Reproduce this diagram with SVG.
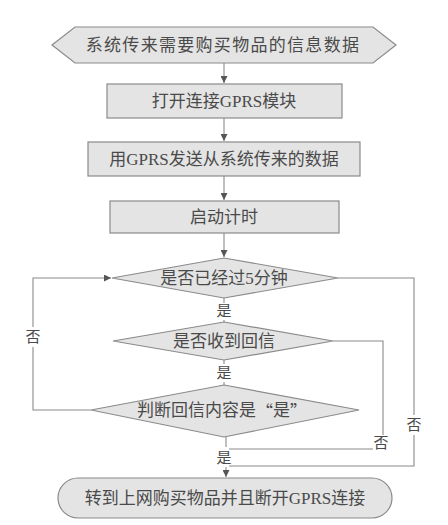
<svg xmlns="http://www.w3.org/2000/svg" width="448" height="525" viewBox="0 0 448 525">
<defs>
<marker id="ah" viewBox="0 0 10 10" refX="10" refY="5" markerWidth="7" markerHeight="7" markerUnits="userSpaceOnUse" orient="auto">
<path d="M0,0 L10,5 L0,10 z" fill="#555"/>
</marker>
<style>
.n{fill:#e4e4e4;stroke:#8a8a8a;stroke-width:1.2}
.t{font-family:"Liberation Serif","Noto Sans CJK SC",serif;font-size:17px;fill:#4a4a4a;text-anchor:middle;dominant-baseline:central}
.l{font-family:"Liberation Serif","Noto Sans CJK SC",serif;font-size:15px;fill:#4a4a4a;text-anchor:middle;dominant-baseline:central}
.q{font-family:"Noto Sans CJK SC",sans-serif}
.c{fill:none;stroke:#8a8a8a;stroke-width:1.1}
</style>
</defs>
<rect width="448" height="525" fill="#fff"/>
<g id="connectors">
<path class="c" d="M224,63 V83" marker-end="url(#ah)"/>
<path class="c" d="M224,118 V141" marker-end="url(#ah)"/>
<path class="c" d="M224,176 V200" marker-end="url(#ah)"/>
<path class="c" d="M224,233 V257" marker-end="url(#ah)"/>
<path class="c" d="M224,298 V303"/>
<path class="c" d="M224,320 V322"/>
<path class="c" d="M224,360 V364"/>
<path class="c" d="M224,382 V385"/>
<path class="c" d="M91,410 H33 V347"/>
<path class="c" d="M33,327 V278 H111" marker-end="url(#ah)"/>
<path class="c" d="M333,341 H383 V435"/>
<path class="c" d="M373,449 H229"/>
<path class="c" d="M338,278 H414 V415"/>
<path class="c" d="M414,435 V466 H229"/>
<path class="c" d="M226,437 V447"/>
<path class="c" d="M226,467 V477" marker-end="url(#ah)"/>
</g>
<g id="start">
<polygon class="n" points="52,45 75,27 373,27 396,45 373,63 75,63"/>
<text class="t" x="223" y="45" letter-spacing="1.3">系统传来需要购买物品的信息数据</text>
</g>
<g id="open">
<rect class="n" x="107" y="84" width="235" height="34"/>
<text class="t" x="224" y="101">打开连接GPRS模块</text>
</g>
<g id="send">
<rect class="n" x="88" y="142" width="272" height="34"/>
<text class="t" x="224" y="159">用GPRS发送从系统传来的数据</text>
</g>
<g id="timer">
<rect class="n" x="110" y="201" width="229" height="32"/>
<text class="t" x="224" y="217">启动计时</text>
</g>
<g id="d1">
<polygon class="n" points="112,278 224,258 338,278 224,298"/>
<text class="t" x="224" y="278">是否已经过5分钟</text>
</g>
<g id="d2">
<polygon class="n" points="113,341 224,322 333,341 224,360"/>
<text class="t" x="224" y="341">是否收到回信</text>
</g>
<g id="d3">
<polygon class="n" points="91,410 224,385 359,410 224,437"/>
<text class="t" x="222" y="410">判断回信内容是<tspan class="q">“</tspan>是<tspan class="q">”</tspan></text>
</g>
<g id="end">
<rect class="n" x="58" y="478" width="334" height="40" rx="20" ry="20"/>
<text class="t" x="225" y="498">转到上网购买物品并且断开GPRS连接</text>
</g>
<g id="labels">
<text class="l" x="224" y="311">是</text>
<text class="l" x="224" y="373">是</text>
<text class="l" x="224" y="458">是</text>
<text class="l" x="33" y="337">否</text>
<text class="l" x="381" y="443">否</text>
<text class="l" x="414" y="425">否</text>
</g>
</svg>
